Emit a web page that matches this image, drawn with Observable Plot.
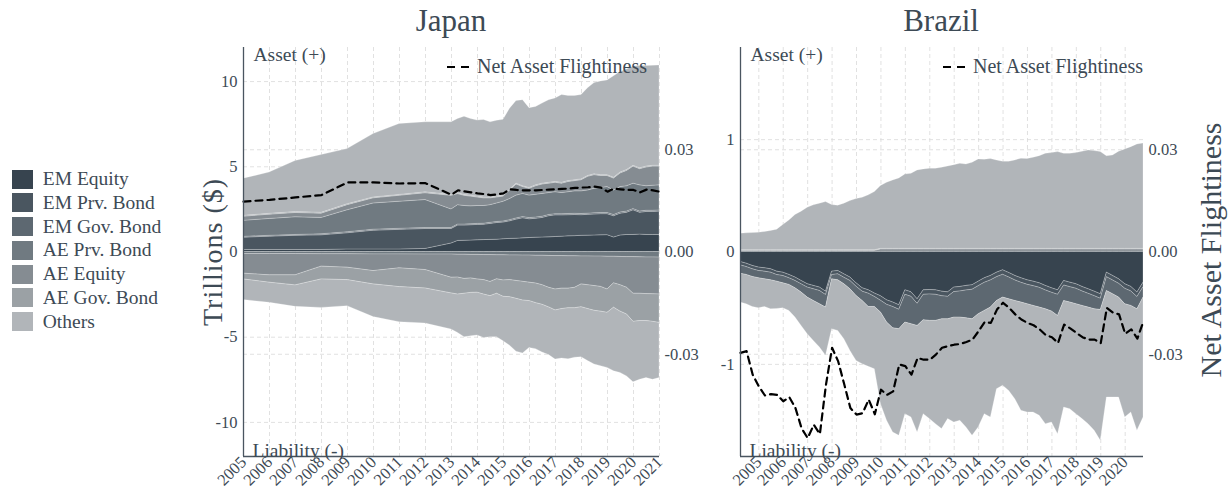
<!DOCTYPE html>
<html>
<head>
<meta charset="utf-8">
<script src="https://cdn.jsdelivr.net/npm/d3@7"></script>
<script src="https://cdn.jsdelivr.net/npm/@observablehq/plot@0.6"></script>
<style>
  html, body { margin: 0; padding: 0; background: #fff; }
  #root { position: relative; width: 1228px; height: 494px; overflow: hidden; font-family: 'Liberation Serif', serif; color: #3d4a55; }
  .abs { position: absolute; }
  .title { font-size: 31px; text-align: center; width: 200px; }
  .vlabel { font-size: 30px; white-space: nowrap; transform: translate(-50%, -50%) rotate(-90deg); }
  .vlabel.wide { font-size: 28px; letter-spacing: 1px; }
  .lineleg { display: flex; align-items: center; font-size: 20px; white-space: nowrap; }
  .lineleg svg { margin-right: 5px; }
  .catleg-swatch { padding-bottom: 1.8px !important; }
</style>
</head>
<body>
<div id="root"></div>
<script>
// ---------- categories & colours ----------
const categories = ["EM Equity", "EM Prv. Bond", "EM Gov. Bond", "AE Prv. Bond", "AE Equity", "AE Gov. Bond", "Others"];
const colors = ["#37444f", "#4a5660", "#5d6871", "#707a81", "#858c92", "#9ba1a5", "#b1b5b9"];

// ---------- Japan (trillions $) ----------
const jpDates = [2005,2006,2007,2008,2009,2010,2011,2012,2013,2013.25,2013.5,2013.75,2014,2014.25,2014.5,2014.75,2015,2015.25,2015.5,2015.75,2016,2016.25,2016.5,2016.75,2017,2017.25,2017.5,2017.75,2018,2018.25,2018.5,2018.75,2019,2019.25,2019.5,2019.75,2020,2020.25,2020.5,2020.75,2021];
const jpYears = [2005,2006,2007,2008,2009,2010,2011,2012,2013,2014,2015,2016,2017,2018,2019,2020,2021];

const jpAssetEMEquity  = [0.12,0.12,0.12,0.12,0.15,0.15,0.15,0.18,0.5,0.65,0.66,0.67,0.69,0.7,0.71,0.72,0.75,0.77,0.78,0.8,0.82,0.84,0.85,0.86,0.88,0.9,0.92,0.93,0.95,0.96,0.97,0.98,0.99,0.85,0.97,1.0,1.0,1.02,1.0,1.0,1.0];
const jpAssetEMPrvBond = [0.72,0.78,0.83,0.86,0.95,1.10,1.15,1.17,0.85,0.90,0.89,0.90,0.90,0.90,0.94,0.98,0.98,1.03,1.12,1.18,1.10,1.11,1.15,1.24,1.27,1.25,1.24,1.24,1.21,1.22,1.23,1.24,1.23,1.25,1.28,1.30,1.45,1.28,1.35,1.35,1.37];
const jpAssetEMGovBond = [0.05,0.05,0.05,0.06,0.06,0.06,0.06,0.06,0.06,0.06,0.06,0.06,0.06,0.06,0.06,0.06,0.06,0.07,0.07,0.07,0.07,0.07,0.07,0.07,0.07,0.07,0.07,0.07,0.07,0.07,0.07,0.07,0.07,0.07,0.07,0.07,0.07,0.07,0.07,0.07,0.07];
const jpAssetAEPrvBond = [0.94,0.99,1.04,0.96,1.29,1.54,1.59,1.64,1.09,1.14,1.09,1.05,1.05,1.04,1.04,1.09,1.16,1.24,1.34,1.36,1.32,1.34,1.34,1.29,1.29,1.24,1.28,1.32,1.33,1.36,1.44,1.47,1.52,1.44,1.49,1.49,1.49,1.54,1.44,1.47,1.47];
const jpAssetAEEquity  = [0.24,0.25,0.25,0.25,0.30,0.30,0.35,0.40,0.80,0.65,0.60,0.57,0.50,0.45,0.40,0.35,0.30,0.50,0.65,0.40,0.40,0.50,0.55,0.55,0.55,0.55,0.60,0.60,0.65,0.80,0.80,0.70,0.65,0.70,0.80,0.90,1.00,0.95,1.10,1.12,1.10];
const jpAssetAEGovBond = [0.05,0.05,0.05,0.05,0.05,0.05,0.05,0.05,0.05,0.05,0.05,0.05,0.05,0.05,0.05,0.05,0.05,0.05,0.05,0.05,0.05,0.05,0.05,0.05,0.05,0.05,0.05,0.05,0.05,0.05,0.05,0.05,0.05,0.05,0.05,0.05,0.05,0.05,0.05,0.05,0.05];
const jpAssetOthers    = [2.18,2.42,3.00,3.39,3.24,3.72,4.16,4.11,4.26,4.35,4.59,4.50,4.46,4.55,4.41,4.45,4.46,4.75,4.85,5.05,4.68,4.60,4.70,4.85,4.90,5.15,5.00,4.95,4.95,5.15,5.35,5.50,5.56,5.95,5.90,5.90,5.83,6.00,5.90,5.87,5.89];

const jpLiabAEPrvBond = [-0.12,-0.12,-0.12,-0.13,-0.13,-0.14,-0.14,-0.15,-0.15,-0.16,-0.16,-0.17,-0.17,-0.18,-0.18,-0.19,-0.19,-0.2,-0.2,-0.21,-0.21,-0.22,-0.22,-0.23,-0.24,-0.24,-0.25,-0.25,-0.26,-0.26,-0.27,-0.27,-0.28,-0.28,-0.29,-0.3,-0.3,-0.31,-0.32,-0.32,-0.33];
const jpLiabAEEquity  = [-1.15,-1.25,-1.25,-0.73,-0.79,-0.98,-0.82,-0.91,-1.36,-1.34,-1.42,-1.38,-1.44,-1.47,-1.58,-1.41,-1.48,-1.45,-1.50,-1.54,-1.59,-1.63,-1.73,-1.87,-1.96,-1.91,-1.90,-1.85,-1.64,-1.69,-1.73,-1.78,-1.92,-1.56,-1.66,-1.80,-2.15,-2.14,-2.15,-2.16,-2.16];
const jpLiabAEGovBond = [-0.34,-0.43,-0.59,-0.75,-0.73,-0.78,-1.10,-1.08,-0.92,-1.00,-0.87,-0.85,-0.78,-0.85,-0.83,-0.85,-0.96,-1.00,-1.05,-1.10,-1.08,-1.15,-1.15,-1.15,-1.23,-1.20,-1.15,-1.20,-1.34,-1.40,-1.45,-1.45,-1.37,-1.43,-1.55,-1.57,-1.65,-1.60,-1.58,-1.62,-1.67];
const jpLiabOthers    = [-1.21,-1.18,-1.26,-1.67,-1.53,-1.92,-2.06,-2.06,-2.12,-2.25,-2.55,-2.55,-2.51,-2.55,-2.41,-2.55,-2.61,-2.85,-3.10,-3.10,-2.75,-2.70,-2.80,-2.80,-2.88,-2.90,-3.00,-2.90,-2.94,-3.05,-3.15,-3.20,-3.23,-3.73,-3.60,-3.63,-3.55,-3.45,-3.35,-3.40,-3.23];

const jpFlight = [0.0148,0.0153,0.0160,0.0167,0.0204,0.0204,0.0201,0.0202,0.0168,0.0181,0.0178,0.0175,0.0172,0.0170,0.0167,0.0169,0.0172,0.0184,0.0182,0.0181,0.0181,0.0181,0.0182,0.0183,0.0184,0.0185,0.0186,0.0188,0.0189,0.0190,0.0192,0.0189,0.0177,0.0186,0.0184,0.0182,0.0182,0.0175,0.0183,0.0181,0.0177];

// ---------- Brazil (trillions $) ----------
const brDates = [2004.25,2004.5,2004.75,2005,2005.25,2005.5,2005.75,2006,2006.25,2006.5,2006.75,2007,2007.25,2007.5,2007.75,2008,2008.25,2008.5,2008.75,2009,2009.25,2009.5,2009.75,2010,2010.25,2010.5,2010.75,2011,2011.25,2011.5,2011.75,2012,2012.25,2012.5,2012.75,2013,2013.25,2013.5,2013.75,2014,2014.25,2014.5,2014.75,2015,2015.25,2015.5,2015.75,2016,2016.25,2016.5,2016.75,2017,2017.25,2017.5,2017.75,2018,2018.25,2018.5,2018.75,2019,2019.25,2019.5,2019.75,2020,2020.25,2020.5,2020.75];
const brYears = [2005,2006,2007,2008,2009,2010,2011,2012,2013,2014,2015,2016,2017,2018,2019,2020];

const brAssetAEPrvBond = [0.003,0.003,0.003,0.003,0.003,0.003,0.003,0.003,0.003,0.003,0.003,0.003,0.003,0.003,0.003,0.003,0.003,0.003,0.003,0.003,0.003,0.003,0.003,0.003,0.003,0.003,0.003,0.003,0.003,0.003,0.003,0.003,0.003,0.003,0.003,0.003,0.003,0.003,0.003,0.003,0.003,0.003,0.003,0.003,0.003,0.003,0.003,0.003,0.003,0.003,0.003,0.003,0.003,0.003,0.003,0.003,0.003,0.003,0.003,0.003,0.003,0.003,0.003,0.003,0.003,0.003,0.003];
const brAssetAEEquity  = [0.008,0.008,0.008,0.008,0.008,0.008,0.008,0.008,0.008,0.008,0.008,0.008,0.008,0.008,0.008,0.008,0.008,0.008,0.008,0.008,0.008,0.008,0.008,0.020,0.020,0.020,0.020,0.020,0.020,0.020,0.020,0.020,0.020,0.020,0.020,0.020,0.020,0.020,0.020,0.020,0.020,0.020,0.020,0.020,0.020,0.020,0.020,0.020,0.020,0.020,0.020,0.020,0.020,0.020,0.020,0.020,0.020,0.020,0.020,0.020,0.020,0.020,0.020,0.020,0.020,0.020,0.020];
const brAssetAEGovBond = [0.005,0.005,0.005,0.005,0.005,0.005,0.005,0.005,0.005,0.005,0.005,0.005,0.005,0.005,0.005,0.005,0.005,0.005,0.005,0.005,0.005,0.005,0.005,0.005,0.005,0.005,0.005,0.005,0.005,0.005,0.005,0.005,0.005,0.005,0.005,0.005,0.005,0.005,0.005,0.005,0.005,0.005,0.005,0.005,0.005,0.005,0.005,0.005,0.005,0.005,0.005,0.005,0.005,0.005,0.005,0.005,0.005,0.005,0.005,0.005,0.005,0.005,0.005,0.005,0.005,0.005,0.005];
const brAssetOthers    = [0.147,0.150,0.153,0.156,0.162,0.171,0.183,0.224,0.265,0.313,0.343,0.378,0.399,0.414,0.428,0.402,0.396,0.414,0.437,0.455,0.467,0.488,0.517,0.559,0.588,0.609,0.627,0.662,0.668,0.698,0.707,0.713,0.713,0.722,0.733,0.745,0.757,0.751,0.766,0.796,0.793,0.799,0.787,0.775,0.775,0.787,0.802,0.799,0.811,0.825,0.846,0.852,0.861,0.846,0.846,0.852,0.864,0.876,0.870,0.861,0.825,0.831,0.864,0.885,0.905,0.929,0.938];

const brLiabEMEquity  = [-0.089,-0.104,-0.124,-0.139,-0.145,-0.154,-0.175,-0.184,-0.204,-0.228,-0.258,-0.287,-0.302,-0.317,-0.353,-0.175,-0.169,-0.199,-0.228,-0.279,-0.323,-0.341,-0.370,-0.394,-0.430,-0.450,-0.474,-0.341,-0.359,-0.421,-0.341,-0.338,-0.341,-0.353,-0.359,-0.317,-0.311,-0.302,-0.296,-0.264,-0.234,-0.213,-0.184,-0.163,-0.187,-0.213,-0.234,-0.252,-0.264,-0.279,-0.302,-0.323,-0.341,-0.258,-0.273,-0.287,-0.311,-0.332,-0.353,-0.376,-0.184,-0.213,-0.243,-0.287,-0.311,-0.361,-0.273];
const brLiabEMPrvBond = [-0.03,-0.03,-0.03,-0.03,-0.03,-0.03,-0.03,-0.03,-0.03,-0.03,-0.03,-0.03,-0.03,-0.03,-0.03,-0.03,-0.03,-0.03,-0.03,-0.03,-0.03,-0.03,-0.03,-0.04,-0.04,-0.04,-0.04,-0.04,-0.04,-0.04,-0.04,-0.04,-0.04,-0.04,-0.04,-0.04,-0.04,-0.04,-0.04,-0.04,-0.04,-0.04,-0.04,-0.04,-0.04,-0.04,-0.04,-0.04,-0.04,-0.04,-0.04,-0.04,-0.04,-0.04,-0.04,-0.04,-0.04,-0.04,-0.04,-0.04,-0.04,-0.04,-0.04,-0.04,-0.04,-0.04,-0.04];
const brLiabEMGovBond = [-0.074,-0.070,-0.068,-0.065,-0.068,-0.068,-0.059,-0.065,-0.059,-0.065,-0.073,-0.089,-0.104,-0.118,-0.112,-0.038,-0.053,-0.058,-0.074,-0.082,-0.083,-0.118,-0.089,-0.105,-0.158,-0.189,-0.173,-0.247,-0.244,-0.197,-0.226,-0.235,-0.232,-0.206,-0.200,-0.227,-0.233,-0.248,-0.263,-0.250,-0.250,-0.242,-0.212,-0.203,-0.194,-0.183,-0.176,-0.173,-0.176,-0.176,-0.168,-0.167,-0.188,-0.138,-0.137,-0.138,-0.129,-0.123,-0.117,-0.100,-0.123,-0.123,-0.123,-0.138,-0.129,-0.109,-0.093];
const brLiabOthers    = [-0.257,-0.261,-0.267,-0.267,-0.246,-0.258,-0.243,-0.222,-0.231,-0.261,-0.297,-0.326,-0.355,-0.385,-0.429,-0.444,-0.450,-0.489,-0.548,-0.578,-0.563,-0.533,-0.554,-0.815,-0.874,-0.927,-0.949,-0.815,-0.830,-0.948,-0.836,-0.874,-0.919,-0.977,-0.888,-0.933,-0.918,-0.971,-1.037,-1.007,-0.919,-0.978,-0.785,-0.785,-0.815,-0.874,-0.963,-0.963,-0.948,-0.963,-1.022,-0.987,-1.052,-0.948,-0.949,-0.978,-1.007,-1.037,-1.081,-1.164,-0.948,-0.919,-0.889,-1.008,-0.948,-1.081,-1.067];

const brFlight = [-0.0296,-0.0291,-0.0360,-0.0394,-0.0421,-0.0417,-0.0419,-0.0438,-0.0426,-0.0458,-0.0517,-0.0546,-0.0507,-0.0534,-0.0389,-0.0281,-0.0321,-0.0389,-0.0458,-0.0477,-0.0473,-0.0433,-0.0476,-0.0404,-0.0419,-0.0409,-0.0330,-0.0335,-0.0360,-0.0311,-0.0316,-0.0316,-0.0301,-0.0281,-0.0276,-0.0272,-0.0270,-0.0264,-0.0257,-0.0232,-0.0205,-0.0208,-0.0169,-0.0149,-0.0164,-0.0183,-0.0198,-0.0208,-0.0215,-0.0227,-0.0244,-0.0250,-0.0267,-0.0213,-0.0224,-0.0237,-0.0250,-0.0257,-0.0257,-0.0267,-0.0164,-0.0178,-0.0183,-0.0240,-0.0227,-0.0254,-0.0203];

// ---------- axis ticks ----------
const jpLeftTicks = [-10, -5, 0, 5, 10];
const brLeftTicks = [-1, 0, 1];
const rightTicks = [-0.03, 0, 0.03];

// ---------- helpers ----------
function rowsFrom(dates, series) {
  const rows = [];
  for (const [cat, vals] of series) vals.forEach((v, i) => rows.push({date: dates[i], cat, value: v}));
  return rows;
}
const FONT = "'Liberation Serif', serif";
const TXT = "#3d4a55";
const GRID = {stroke: "#d9d9d9", strokeOpacity: 1, strokeDasharray: "4,3", strokeWidth: 0.8};
const hy = s => String(s).replace("\u2212", "-");

function panel({dates, years, xDomain, yDomain, leftTicks, leftFmt, assets, liabs, flight, width, marginLeft, marginRight}) {
  const k = yDomain[1] / 0.06; // right-axis units -> left-axis units
  const flightRows = flight.map((f, i) => ({date: dates[i], f}));
  const stackOpts = {x: "date", y: "value", z: "cat", fill: "cat", order: categories,
                     stroke: "white", strokeWidth: 0.6, strokeOpacity: 0.4};
  return Plot.plot({
    width, height: 454,
    marginLeft, marginRight, marginTop: 7, marginBottom: 38,
    x: {domain: xDomain},
    y: {domain: yDomain},
    color: {domain: categories, range: colors},
    style: {fontFamily: FONT, fontSize: "16.5px", color: TXT, background: "transparent", overflow: "visible"},
    marks: [
      Plot.gridX(years, GRID),
      Plot.gridY(leftTicks, GRID),
      Plot.gridY(rightTicks.map(t => t * k), GRID),
      Plot.areaY(rowsFrom(dates, assets), Plot.stackY(stackOpts)),
      Plot.areaY(rowsFrom(dates, liabs), Plot.stackY(stackOpts)),
      Plot.line(flightRows, {x: "date", y: d => d.f * k, stroke: "#000", strokeWidth: 2.2, strokeDasharray: "7,5"}),
      Plot.ruleX([xDomain[0]], {stroke: "#4a5560", strokeWidth: 1.3}),
      Plot.ruleY([yDomain[0]], {stroke: "#4a5560", strokeWidth: 1.3}),
      Plot.axisY(leftTicks, {anchor: "left", tickSize: 0, tickPadding: 6, tickFormat: leftFmt, label: null, fontSize: 16.5}),
      Plot.axisY(rightTicks.map(t => t * k), {anchor: "right", tickSize: 0, tickPadding: 5, tickFormat: d => hy(d3.format(".2f")(d / k + 0)), label: null, fontSize: 16.5}),
      Plot.axisX(years, {anchor: "bottom", tickSize: 0, tickPadding: 3, tickRotate: -45, tickFormat: d => String(d), label: null, fontSize: 16.5}),
      Plot.text(["Asset (+)"], {frameAnchor: "top-left", text: d => d, dx: 10, dy: 0, textAnchor: "start", lineAnchor: "top", fontSize: 19.5, fill: TXT}),
      Plot.text(["Liability (-)"], {frameAnchor: "bottom-left", text: d => d, dx: 9, dy: 0, textAnchor: "start", lineAnchor: "bottom", fontSize: 19.5, fill: TXT})
    ]
  });
}

const root = document.getElementById("root");
function place(el, left, top) { el.classList.add("abs"); el.style.left = left + "px"; el.style.top = top + "px"; root.appendChild(el); return el; }
function div(cls, html) { const d = document.createElement("div"); d.className = cls; d.innerHTML = html; return d; }

const jp = panel({
  dates: jpDates, years: jpYears, xDomain: [2005, 2021], yDomain: [-12, 12],
  leftTicks: jpLeftTicks, leftFmt: d => hy(d),
  assets: [["EM Equity", jpAssetEMEquity], ["EM Prv. Bond", jpAssetEMPrvBond], ["EM Gov. Bond", jpAssetEMGovBond], ["AE Prv. Bond", jpAssetAEPrvBond], ["AE Equity", jpAssetAEEquity], ["AE Gov. Bond", jpAssetAEGovBond], ["Others", jpAssetOthers]],
  liabs: [["AE Prv. Bond", jpLiabAEPrvBond], ["AE Equity", jpLiabAEEquity], ["AE Gov. Bond", jpLiabAEGovBond], ["Others", jpLiabOthers]],
  flight: jpFlight, width: 520, marginLeft: 63, marginRight: 41
});
place(jp, 180, 40);

const br = panel({
  dates: brDates, years: brYears, xDomain: [2004.25, 2020.75], yDomain: [-1.82, 1.82],
  leftTicks: brLeftTicks, leftFmt: d => hy(d),
  assets: [["AE Prv. Bond", brAssetAEPrvBond], ["AE Equity", brAssetAEEquity], ["AE Gov. Bond", brAssetAEGovBond], ["Others", brAssetOthers]],
  liabs: [["EM Equity", brLiabEMEquity], ["EM Prv. Bond", brLiabEMPrvBond], ["EM Gov. Bond", brLiabEMGovBond], ["Others", brLiabOthers]],
  flight: brFlight, width: 510, marginLeft: 60, marginRight: 47
});
place(br, 680, 40);

// titles and axis labels
place(div("title", "Japan"), 351, 3);
place(div("title", "Brazil"), 841, 3);
place(div("vlabel wide", "Trillions ($)"), 213, 252);
place(div("vlabel", "Net Asset Flightiness"), 1211, 250);

// dashed-line legends
const dashSvg = '<svg width="25" height="10"><line x1="0" x2="25" y1="5" y2="5" stroke="#000" stroke-width="2.2" stroke-dasharray="8,6"/></svg>';
place(div("lineleg", dashSvg + "<span>Net Asset Flightiness</span>"), 447, 55);
place(div("lineleg", dashSvg + "<span>Net Asset Flightiness</span>"), 943, 55);

// category legend
const leg = Plot.legend({
  color: {type: "ordinal", domain: categories, range: colors},
  legend: "swatches", columns: 1, swatchWidth: 21, swatchHeight: 19, className: "catleg",
  style: {fontFamily: FONT, fontSize: "19.5px", color: TXT, background: "transparent"}
});
place(leg, 12, 168);
</script>
</body>
</html>
